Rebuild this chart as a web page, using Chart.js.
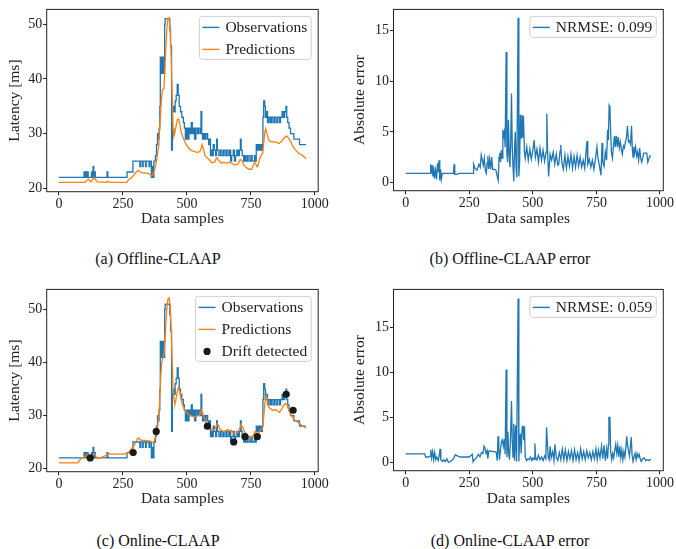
<!DOCTYPE html>
<html>
<head>
<meta charset="utf-8">
<script src="https://cdn.jsdelivr.net/npm/chart.js@4.4.1/dist/chart.umd.min.js"></script>
<style>
  body { margin: 0; background: #fff; }
  #page { position: relative; width: 676px; height: 549px; overflow: hidden; font-family: "Liberation Serif", "Times New Roman", serif; }
  canvas { position: absolute; }
  .cap { position: absolute; font-size: 16px; color: #111; transform: translate(-50%, -50%); white-space: nowrap; }
</style>
</head>
<body>
<div id="page">
  <canvas id="chartA" width="330" height="236" style="left:0;top:0"></canvas>
  <canvas id="chartB" width="336" height="236" style="left:340px;top:0"></canvas>
  <canvas id="chartC" width="330" height="236" style="left:0;top:280px"></canvas>
  <canvas id="chartD" width="336" height="236" style="left:340px;top:280px"></canvas>
  <div class="cap" style="left:158px;top:259px">(a) Offline-CLAAP</div>
  <div class="cap" style="left:510px;top:259px">(b) Offline-CLAAP error</div>
  <div class="cap" style="left:158px;top:541px">(c) Online-CLAAP</div>
  <div class="cap" style="left:510px;top:541px">(d) Online-CLAAP error</div>
</div>
<script>
// tick labels
const sampleTicks  = [0, 250, 500, 750, 1000];
const latencyTicks = [20, 30, 40, 50];
const errorTicks   = [0, 5, 10, 15];

// observed latency [sample, ms] (same trace in a and c)
const observations = [
  [0,22],[98,23],[101,22],[104,23],[107,22],[110,23],[114,22],[127,23],[130,22],[133,24],[136,22],[139,23],[142,22],
  [188,23],[191,22],[266,23],[289,25],[316,24],[319,25],[326,24],[329,25],[338,24],[341,25],[352,24],[355,25],
  [361,22],[364,24],[367,22],[371,25],[377,26],[381,28],[385,30],[388,29],[391,31],[394,35],[396,44],[399,41],
  [402,44],[405,41],[408,44],[410,41],[413,50],[415,51],[433,49],[436,46],[440,27],[443,34],[446,35],[450,34],
  [454,36],[458,37],[462,39],[466,37],[470,35],[475,34],[480,33],[486,32],[490,31],[494,29],[498,31],[503,29],
  [508,31],[512,30],[517,32],[521,30],[526,31],[530,29],[535,31],[541,30],[546,31],[552,30],[555,34],[558,30],
  [561,29],[565,30],[570,29],[575,30],[581,29],[585,28],[589,29],[592,26],[595,27],[599,26],[603,28],[607,27],
  [612,26],[616,29],[619,27],[625,26],[631,27],[637,26],[643,27],[649,26],[655,27],[661,26],[667,27],[671,25],
  [675,26],[681,27],[686,25],[690,26],[695,27],[700,26],[705,27],[709,29],[712,27],[716,26],[722,25],[726,26],
  [731,25],[737,26],[743,25],[750,26],[755,25],[764,26],[768,25],[771,28],[775,27],[779,28],[783,27],[787,28],
  [791,27],[795,28],[797,33],[800,36],[804,35],[807,33],[811,34],[815,32],[820,33],[826,32],[831,33],[837,32],
  [843,33],[849,32],[855,33],[862,32],[866,33],[872,34],[877,33],[882,34],[887,35],[890,33],[894,32],[899,31],
  [905,30],[912,30],[918,29],[930,29],[940,28],[965,28]
];

// offline CLAAP predictions
const offlinePred = [
  [0,21.1],[100,21.1],[108,21.4],[115,21.7],[120,21.4],[125,21.2],[131,21.6],[137,22.0],[143,21.6],[150,21.2],
  [185,21.1],[190,21.3],[196,21.2],[205,21.1],[265,21.1],[272,21.6],[282,21.9],[292,22.4],[300,22.9],[310,23.3],
  [318,23.0],[330,22.8],[345,22.8],[355,22.6],[362,22.3],[366,22.4],[372,23.2],[378,24.2],[384,26],[390,28],
  [395,32],[400,36],[404,38],[410,38.2],[414,42],[418,46],[422,49.5],[426,51],[430,51.2],[434,49.5],[438,45],
  [442,38],[446,31],[449,29.5],[453,30.2],[458,31.5],[463,32.6],[467,32.7],[472,31.8],[478,30.2],[485,29.3],
  [493,28.4],[500,27.8],[510,27.2],[520,26.9],[530,26.7],[540,26.6],[550,26.7],[555,27.2],[559,28.0],[564,27.3],
  [570,26.1],[578,25.6],[588,25.2],[598,24.7],[608,24.8],[614,25.4],[618,25.6],[626,25.0],[636,24.6],[645,24.8],
  [655,24.6],[665,24.8],[675,24.6],[685,24.3],[695,24.3],[702,24.6],[708,25.3],[714,25.1],[722,24.3],[732,23.8],
  [742,23.5],[752,23.5],[758,24.0],[764,24.7],[768,24.6],[773,24.0],[777,24.0],[784,25.4],[790,26.0],[796,26.4],
  [800,28.2],[804,30.2],[808,30.9],[813,30.0],[820,28.8],[830,28.5],[840,28.5],[850,28.4],[860,28.2],[870,28.6],
  [880,29.2],[889,29.6],[897,29.2],[905,28.6],[915,27.6],[925,27.0],[935,26.5],[945,26.2],[955,25.9],[965,25.4]
];

// offline absolute error
const offlineErr = [
  [0,0.9],[96,0.9],[98,1.8],[101,0.9],[104,1.7],[107,0.6],[110,1.5],[113,0.4],[117,1.2],[121,0.3],[125,1.9],
  [128,1.0],[131,2.2],[134,0.2],[137,1.3],[140,0.3],[144,0.9],[188,0.9],[190,1.8],[193,0.8],[200,0.8],[210,0.9],
  [265,0.9],[267,1.8],[272,1.4],[280,1.2],[288,1.8],[293,1.5],[297,2.7],[301,2.2],[305,1.7],[309,2.4],[313,1.2],
  [317,0.9],[320,1.9],[323,2.6],[326,1.3],[330,2.3],[334,1.3],[338,2.5],[342,1.3],[348,1.3],[355,1.2],[360,0.6],
  [364,0.2],[367,2.5],[370,2.9],[373,2.0],[376,3.2],[379,2.4],[382,5.2],[385,4.6],[388,5.0],[391,3.5],[395,12.9],
  [398,2.8],[401,2.0],[404,6.2],[407,3.0],[410,1.5],[413,4.0],[416,8.8],[419,3.5],[422,1.5],[425,0.1],[428,3.5],
  [431,5.0],[434,1.5],[437,0.5],[442,16.3],[445,0.6],[448,2.0],[451,6.7],[454,4.4],[457,6.7],[460,4.5],[463,6.6],
  [467,3.0],[470,2.4],[476,3.5],[482,2.2],[488,3.3],[494,2.3],[500,3.2],[505,4.2],[510,2.5],[516,3.3],[522,2.0],
  [528,3.4],[534,2.2],[540,3.2],[546,2.1],[552,3.0],[555,6.8],[558,3.0],[562,0.6],[568,2.8],[574,2.2],[580,3.0],
  [586,1.8],[592,2.8],[598,1.7],[602,1.8],[607,3.1],[610,3.7],[614,2.0],[620,1.3],[626,2.7],[632,1.4],[638,2.6],
  [644,1.6],[650,2.8],[656,1.4],[662,2.6],[668,1.5],[674,2.7],[680,1.6],[686,2.5],[692,1.5],[698,2.2],[704,1.4],
  [709,3.0],[713,4.1],[716,1.8],[722,2.3],[728,1.5],[734,2.2],[740,1.3],[746,2.3],[752,3.5],[756,2.4],[762,1.6],
  [768,0.7],[772,3.9],[775,2.0],[780,1.6],[785,3.0],[790,2.2],[794,5.2],[797,4.2],[800,7.6],[803,7.4],[806,5.0],
  [809,3.0],[813,2.4],[817,3.6],[821,4.6],[824,3.5],[828,4.6],[832,3.5],[836,4.5],[840,3.4],[844,4.0],[848,3.3],
  [852,2.8],[856,3.6],[860,3.4],[864,4.0],[868,4.4],[872,5.6],[876,4.0],[880,4.1],[884,3.8],[888,5.6],[891,3.4],
  [894,2.5],[897,3.5],[900,2.9],[904,3.5],[908,2.6],[912,3.0],[916,2.2],[920,3.4],[924,2.4],[928,2.0],[932,2.4],
  [936,2.9],[942,2.9],[948,2.9],[952,2.0],[956,2.3],[960,2.6],[965,2.6]
];

// online CLAAP predictions
const onlinePred = [
  [0,21.05],[72,21.05],[78,21.4],[85,21.8],[92,22.0],[100,22.2],[108,22.5],[114,22.7],[118,22.4],[123,22.0],
  [128,22.3],[134,22.6],[139,22.8],[144,22.3],[150,21.9],[160,22.0],[170,22.2],[180,22.4],[190,22.6],[197,22.8],
  [205,22.7],[230,22.7],[255,22.7],[265,22.9],[272,23.1],[280,23.5],[288,24.0],[295,24.5],[300,25.0],[306,25.6],
  [312,25.8],[318,25.4],[325,25.3],[335,25.3],[345,25.2],[355,25.2],[362,25.0],[368,24.8],[373,25.3],[378,26.2],
  [382,27.0],[386,28.0],[390,30.0],[394,33.0],[398,37.5],[402,40.0],[406,41.0],[410,41.5],[414,44],[418,47.5],
  [422,50.5],[426,52.0],[430,52.2],[434,51.0],[438,47.0],[442,41.0],[446,35.0],[450,33.0],[453,32.1],[457,33.0],
  [462,34.5],[467,35.3],[472,34.5],[477,33.0],[483,32.0],[490,31.2],[497,30.7],[505,30.2],[515,30.0],[525,29.8],
  [535,29.8],[545,30.0],[552,30.2],[557,31.0],[562,30.5],[567,29.6],[572,29.0],[578,28.3],[584,28.0],[590,27.8],
  [598,27.3],[605,27.2],[612,27.6],[618,28.5],[623,28.2],[628,27.5],[635,27.2],[642,27.0],[650,27.1],[658,27.4],
  [666,27.1],[674,27.2],[680,26.8],[686,26.5],[692,26.6],[700,26.9],[706,27.5],[712,28.3],[718,27.8],[724,27.0],
  [730,26.6],[738,26.2],[746,25.8],[754,25.9],[760,26.3],[766,27.0],[772,26.8],[778,26.4],[784,27.0],[790,27.4],
  [795,27.5],[799,29.0],[803,31.5],[807,33.2],[811,33.8],[815,32.5],[820,31.6],[828,31.2],[838,31.0],[848,31.1],
  [855,30.8],[862,30.6],[870,31.2],[878,31.9],[884,32.3],[889,32.2],[894,31.5],[899,31.0],[905,30.3],[912,29.8],
  [918,29.3],[925,29.0],[932,28.8],[940,28.5],[948,28.2],[955,28.0],[960,27.8],[965,27.6]
];

// samples where drift was detected
const driftX = [122, 290, 380, 580, 683, 727, 775, 888, 915];
const driftY = [22, 23, 27, 28, 25, 26, 26, 34, 31];

// online absolute error
const onlineErr = [
  [0,0.95],[75,0.95],[78,0.6],[90,0.6],[96,0.7],[99,1.4],[102,0.5],[106,1.2],[110,0.3],[114,1.1],[118,0.3],
  [122,0.6],[128,0.2],[132,0.8],[135,1.5],[138,0.3],[144,0.1],[150,0.3],[156,0.1],[162,0.4],[168,0.0],[176,0.1],
  [184,0.3],[190,0.5],[195,0.85],[205,0.7],[215,0.6],[250,0.6],[262,0.9],[265,0.05],[270,0.3],[278,0.5],
  [286,0.9],[292,0.6],[298,1.1],[304,1.0],[308,1.8],[312,1.6],[316,1.0],[320,1.3],[323,0.4],[326,1.2],[330,1.3],
  [340,1.2],[350,1.2],[356,1.1],[360,0.2],[363,2.9],[366,1.5],[369,0.3],[372,1.2],[376,2.2],[380,2.5],[384,1.8],
  [388,2.6],[391,0.9],[395,10.3],[398,0.6],[402,3.4],[405,0.9],[408,0.3],[412,2.5],[416,6.8],[419,2.5],[422,0.6],
  [425,4.3],[428,0.2],[432,4.1],[436,0.1],[442,18.2],[445,0.1],[448,2.5],[451,3.2],[454,1.0],[458,3.9],[461,4.1],
  [464,2.5],[467,4.0],[470,0.6],[475,0.2],[480,0.4],[485,0.3],[490,0.6],[496,0.2],[500,0.5],[505,0.3],[508,2.1],
  [511,0.5],[516,0.3],[522,0.8],[528,0.3],[534,0.6],[540,0.2],[546,0.7],[551,0.4],[554,3.9],[557,2.3],[560,0.6],
  [564,0.3],[568,1.8],[572,0.5],[578,1.2],[583,0.2],[587,2.0],[592,0.6],[598,0.2],[604,1.1],[610,0.3],[616,1.5],
  [622,0.3],[628,1.4],[634,0.2],[640,1.2],[646,0.4],[652,1.3],[658,0.2],[664,1.4],[670,0.3],[676,1.1],[682,0.2],
  [688,1.5],[694,0.4],[700,1.2],[706,0.3],[712,1.3],[718,0.5],[724,1.1],[730,0.3],[736,1.2],[742,0.4],[748,1.5],
  [753,0.3],[758,1.4],[764,0.5],[770,1.8],[775,0.4],[780,1.9],[785,0.2],[790,1.5],[794,0.4],[797,2.0],[799,5.0],
  [803,5.0],[806,1.2],[810,0.3],[814,1.0],[818,0.5],[822,1.3],[826,2.0],[830,1.0],[834,1.9],[838,0.6],[842,1.8],
  [846,0.5],[850,1.4],[854,0.3],[858,1.2],[862,0.6],[866,1.7],[869,2.9],[872,2.0],[876,1.3],[880,0.7],[884,2.0],
  [887,2.8],[890,0.9],[894,0.1],[898,0.6],[902,1.0],[906,0.3],[910,1.0],[914,0.6],[918,0.9],[922,0.4],[926,0.1],
  [932,0.4],[938,0.5],[944,0.2],[950,0.3],[956,0.2],[960,0.3],[965,0.35]
];

const BLUE = '#1f77b4';
const ORANGE = '#ff7f0e';
const INK = '#222';
const SERIF = '"Liberation Serif", "Times New Roman", serif';

Chart.defaults.font.family = SERIF;
Chart.defaults.color = INK;

const toPoints = pairs => pairs.map(p => ({ x: p[0], y: p[1] }));

// frame round the plot + matplotlib-like legend box
const frameAndLegend = {
  id: 'frameAndLegend',
  afterDatasetsDraw(chart) {
    const { ctx, chartArea: a } = chart;
    ctx.save();
    ctx.strokeStyle = INK;
    ctx.lineWidth = 1;
    ctx.strokeRect(a.left, a.top, a.right - a.left, a.bottom - a.top);
    ctx.restore();
  },
  afterDraw(chart, args, opts) {
    const items = opts.items || [];
    if (!items.length) return;
    const { ctx, chartArea: a } = chart;
    ctx.save();
    ctx.font = '15.5px ' + SERIF;
    const tw = Math.max(...items.map(it => ctx.measureText(it.label).width));
    const w = 3 + 17 + 6 + tw + 4;
    const h = 22 * items.length - 1;
    const right = a.right - 7, top = a.top + 7, left = right - w;

    ctx.beginPath();
    ctx.roundRect(left, top, w, h, 3);
    ctx.fillStyle = 'rgba(255,255,255,0.8)';
    ctx.fill();
    ctx.strokeStyle = '#d0d0d0';
    ctx.lineWidth = 1;
    ctx.stroke();

    items.forEach((it, i) => {
      const cy = top + 11 + 22 * i;
      if (it.dot) {
        ctx.beginPath();
        ctx.arc(left + 11.5, cy, 3.6, 0, Math.PI * 2);
        ctx.fillStyle = it.color;
        ctx.fill();
      } else {
        ctx.beginPath();
        ctx.moveTo(left + 3, cy);
        ctx.lineTo(left + 20, cy);
        ctx.strokeStyle = it.color;
        ctx.lineWidth = 1.4;
        ctx.stroke();
      }
      ctx.fillStyle = INK;
      ctx.textBaseline = 'middle';
      ctx.fillText(it.label, left + 26, cy + 1);
    });
    ctx.restore();
  }
};

function makeChart(id, cfg) {
  const canvas = document.getElementById(id);
  const W = canvas.width, H = canvas.height;
  new Chart(canvas, {
    type: 'line',
    data: { datasets: cfg.datasets },
    plugins: [frameAndLegend],
    options: {
      responsive: false,
      animation: false,
      devicePixelRatio: 1,
      layout: { padding: { left: 0, top: 5, right: W - cfg.areaRight, bottom: 0 } },
      elements: { point: { radius: 0 }, line: { borderWidth: 1.3, tension: 0 } },
      plugins: {
        legend: { display: false },
        tooltip: { enabled: false },
        frameAndLegend: { items: cfg.legend }
      },
      scales: {
        x: {
          type: 'linear',
          min: -48, max: 1013,
          afterBuildTicks: s => { s.ticks = sampleTicks.map(v => ({ value: v })); },
          afterFit: s => { s.height = H - cfg.areaBottom; },
          ticks: { font: { size: 14 }, color: INK, padding: 1, maxRotation: 0, callback: v => String(v) },
          grid: { drawOnChartArea: false, drawTicks: true, tickLength: 3.5, tickColor: INK },
          border: { display: false },
          title: { display: true, text: 'Data samples', font: { size: 15.5 }, color: INK, padding: { top: 0, bottom: 8 } }
        },
        y: {
          min: cfg.yMin, max: cfg.yMax,
          afterBuildTicks: s => { s.ticks = cfg.yTicks.map(v => ({ value: v })); },
          afterFit: s => { s.width = cfg.areaLeft; },
          ticks: { font: { size: 14 }, color: INK, padding: 1, callback: v => String(v) },
          grid: { drawOnChartArea: false, drawTicks: true, tickLength: 3.5, tickColor: INK },
          border: { display: false },
          title: { display: true, text: cfg.yTitle, font: { size: 15.5 }, color: INK, padding: { top: cfg.yTitlePad, bottom: 0 } }
        }
      }
    }
  });
}

const obsSet = () => ({ label: 'Observations', data: toPoints(observations), borderColor: BLUE, stepped: true, order: 3 });

makeChart('chartA', {
  areaLeft: 46.7, areaRight: 318.3, areaBottom: 191.7,
  yMin: 19.4, yMax: 52.7, yTicks: latencyTicks, yTitle: 'Latency [ms]', yTitlePad: 5.5,
  datasets: [
    obsSet(),
    { label: 'Predictions', data: toPoints(offlinePred), borderColor: ORANGE, order: 2 }
  ],
  legend: [
    { label: 'Observations', color: BLUE },
    { label: 'Predictions', color: ORANGE }
  ]
});

makeChart('chartB', {
  areaLeft: 53.5, areaRight: 323.3, areaBottom: 190.7,
  yMin: -0.82, yMax: 17.12, yTicks: errorTicks, yTitle: 'Absolute error', yTitlePad: 10.5,
  datasets: [
    { label: 'NRMSE: 0.099', data: toPoints(offlineErr), borderColor: BLUE }
  ],
  legend: [{ label: 'NRMSE: 0.099', color: BLUE }]
});

makeChart('chartC', {
  areaLeft: 46.7, areaRight: 318.3, areaBottom: 191.7,
  yMin: 19.4, yMax: 53.8, yTicks: latencyTicks, yTitle: 'Latency [ms]', yTitlePad: 5.5,
  datasets: [
    obsSet(),
    { label: 'Predictions', data: toPoints(onlinePred), borderColor: ORANGE, order: 2 },
    { type: 'scatter', label: 'Drift detected', data: driftX.map((x, i) => ({ x, y: driftY[i] })),
      pointRadius: 3.6, backgroundColor: '#1a1a1a', borderWidth: 0, showLine: false, order: 1 }
  ],
  legend: [
    { label: 'Observations', color: BLUE },
    { label: 'Predictions', color: ORANGE },
    { label: 'Drift detected', color: '#1a1a1a', dot: true }
  ]
});

makeChart('chartD', {
  areaLeft: 53.5, areaRight: 323.3, areaBottom: 190.7,
  yMin: -0.92, yMax: 19.2, yTicks: errorTicks, yTitle: 'Absolute error', yTitlePad: 10.5,
  datasets: [
    { label: 'NRMSE: 0.059', data: toPoints(onlineErr), borderColor: BLUE }
  ],
  legend: [{ label: 'NRMSE: 0.059', color: BLUE }]
});
</script>
</body>
</html>
